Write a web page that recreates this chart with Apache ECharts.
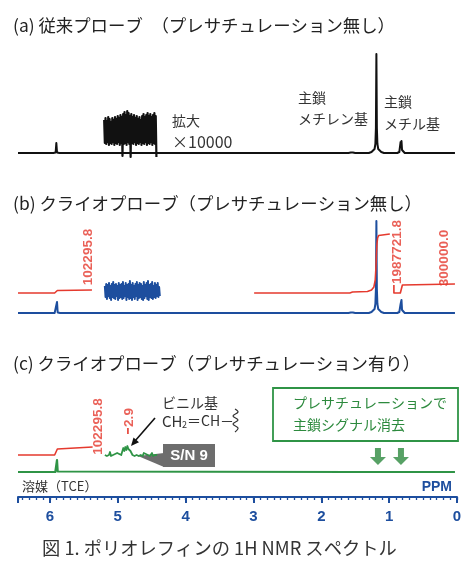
<!DOCTYPE html>
<html><head><meta charset="utf-8">
<script src="https://cdn.jsdelivr.net/npm/echarts@6/dist/echarts.min.js"></script>
<style>html,body{margin:0;padding:0;background:#fff}#c{width:474px;height:570px}</style>
</head><body><div id="c"></div>
<script>
// ---- data (ppm, intensity in panel units) ----
const ppmTicks = [0, 1, 2, 3, 4, 5, 6];
const specA = [[6.47,0],[5.95,0],[5.915,0.5],[5.905,10],[5.895,0.5],[5.86,0],[1.60,0],[1.565,0.5],[1.55,2.5],[1.535,0.5],[1.50,0],[1.30,0],[1.26,1],[1.235,2],[1.215,4],[1.203,9],[1.195,25],[1.188,99],[1.181,25],[1.173,9],[1.161,4],[1.141,2],[1.116,1],[1.076,0],[0.88,0],[0.85,1],[0.838,3],[0.831,11],[0.825,7],[0.818,12],[0.81,3],[0.795,1],[0.77,0],[0.03,0]];
const specB = [[6.47,0],[5.93,0],[5.905,0.5],[5.895,11],[5.885,0.5],[5.85,0],[1.60,0],[1.565,0.5],[1.55,2],[1.535,0.5],[1.50,0],[1.30,0],[1.26,1],[1.235,2],[1.215,4],[1.203,9],[1.195,24],[1.188,92],[1.181,24],[1.173,9],[1.161,4],[1.141,2],[1.116,1],[1.076,0],[0.88,0],[0.85,1],[0.838,3],[0.831,9],[0.825,7],[0.818,13],[0.81,3],[0.795,1],[0.77,0],[0.03,0]];
const specC = [[6.47,0],[5.92,0],[5.905,0.5],[5.895,12],[5.885,0.5],[5.86,0],[1.53,0],[1.51,1],[1.49,0],[1.25,0],[1.23,1],[1.21,0],[0.03,0]];
const noiseA = {start: 5.20, end: 4.43, values: [33,10,35,9,32,11,36,8,34,10,31,9,35,11,33,8,36,10,34,9,37,11,35,8,38,10,36,-3,39,9,41,10,38,8,42,11,40,9,37,-4,39,10,36,9,38,11,35,8,37,10,34,9,36,11,33,8,37,10,39,9,36,11,38,8,40,10,37,9,39,11,36,8,38,10,40,9,37,-4]};
const noiseB = {start: 5.19, end: 4.38, values: [27,16,29,14,28,17,30,15,27,13,29,16,31,15,28,14,29,17,27,13,30,15,28,16,29,14,31,15,27,17,30,13,28,16,29,14,32,15,28,13,30,16,27,14,29,17,31,13,28,15,30,16,29,14,27,13,31,15,28,17,30,14,32,13,28,16,29,15,31,14,27,16,30,15,28,17,30,16,26,17]};
const noiseC = {start: 5.19, end: 4.42, values: [17,19,16,18,17,20,16,18,17,19,18,16,19,17,18,20,17,19,24,21,25,22,26,23,25,21,19,17,19,16,18,17,19,16,18,17,18,16,19,17,18,16,17,18,16,17,19,16,18,17,18,17]};
const intB1 = [[6.47,20],[5.93,20],[5.91,21],[5.89,22.5],[5.87,23],[5.38,23]];
const intB2 = [[2.99,20],[1.58,20],[1.54,21],[1.32,21.5],[1.26,23],[1.225,26],[1.205,33],[1.195,45],[1.188,58],[1.18,69],[1.17,75],[1.155,77.5],[1.13,78.5],[0.99,79]];
const intB3 = [[0.93,28],[0.93,20],[0.835,20],[0.82,24],[0.805,28],[0.78,29],[0.03,29]];
const intC1 = [[6.47,17],[5.93,17],[5.91,19],[5.89,23],[5.87,25],[5.37,25]];
const intC2 = [[4.85,38],[4.85,44]];
const labelsB = [[5.435,56,'102295.8'],[0.885,61,'1987721.8'],[0.19,55,'300000.0']];
const labelsC = [[5.29,45.5,'102295.8'],[4.83,54.5,'2.9']];
const arrowsC = [[1.165,15.5],[0.826,15.5]];

// ---- helpers ----
function noisePts(n) {
  const k = n.values.length, step = (n.start - n.end) / (k - 1);
  return n.values.map((v, i) => [n.start - i * step, v]);
}
const JP = "'Noto Sans CJK JP', sans-serif";
const LAT = "'Liberation Sans', Arial, sans-serif";
const BLACK = '#111', BLUE = '#1d4e9e', RED = '#e53a2e', GREEN = '#2f9446', DGREEN = '#2d8a3e';

const grids = [
  {left: 18, right: 17, top: 50, height: 110},
  {left: 18, right: 17, top: 210, height: 110},
  {left: 18, right: 17, top: 380, height: 99}
];
const yMax = [103, 103, 92];
const xAxes = [0, 1].map(g => ({gridIndex: g, type: 'value', min: 0, max: 6.47, inverse: true, show: false,
  axisLine: {onZero: false}}));
xAxes.push({
  gridIndex: 2, type: 'value', min: 0, max: 6.47, interval: 1, inverse: true, position: 'bottom', offset: 18,
  axisLine: {show: true, onZero: false, lineStyle: {color: BLUE, width: 2}},
  axisTick: {show: true, length: 6, lineStyle: {color: BLUE, width: 2}},
  splitLine: {show: false},
  axisLabel: {show: true, margin: 12, color: BLUE, fontFamily: LAT, fontWeight: 'bold', fontSize: 15,
    formatter: v => (ppmTicks.indexOf(Math.round(v * 1000) / 1000) >= 0 ? String(v) : '')}
});
xAxes.push({
  gridIndex: 2, type: 'value', min: 0, max: 6.47, interval: 0.1, inverse: true, position: 'bottom', offset: 18,
  axisLine: {show: false, onZero: false}, axisLabel: {show: false}, splitLine: {show: false},
  axisTick: {show: true, length: 3, lineStyle: {color: BLUE, width: 1.3}}
});
const yAxes = [0, 1, 2].map(g => ({gridIndex: g, type: 'value', min: -7, max: yMax[g], show: false}));

function line(xi, data, color, w) {
  return {type: 'line', xAxisIndex: xi, yAxisIndex: Math.min(xi, 2), data, symbol: 'none', silent: true,
    smooth: false, clip: false, lineStyle: {color, width: w, join: 'round'}, animation: false};
}
function labels(xi, data) {
  return {type: 'scatter', xAxisIndex: xi, yAxisIndex: xi, data, symbolSize: 1, silent: true, animation: false,
    itemStyle: {color: 'rgba(0,0,0,0)'},
    label: {show: true, position: 'inside', rotate: 90, formatter: p => p.data[2], color: RED,
      fontFamily: LAT, fontWeight: 'bold', fontSize: 13.5}};
}

const series = [
  line(0, specA, BLACK, 2),
  line(0, noisePts(noiseA), BLACK, 2.2),
  line(1, specB, BLUE, 2),
  line(1, noisePts(noiseB), BLUE, 2),
  line(1, intB1, RED, 1.6), line(1, intB2, RED, 1.6), line(1, intB3, RED, 1.6),
  labels(1, labelsB),
  line(2, specC, GREEN, 2.2),
  line(2, noisePts(noiseC), GREEN, 1.8),
  line(2, intC1, RED, 1.6), line(2, intC2, RED, 1.6),
  labels(2, labelsC),
  {type: 'scatter', xAxisIndex: 2, yAxisIndex: 2, data: arrowsC, silent: true, animation: false,
    symbol: 'path://M5,0L11,0L11,9L16,9L8,17L0,9L5,9Z', symbolSize: [16, 17], itemStyle: {color: DGREEN}}
];

function txt(t, x, y, size, color, opts) {
  const o = Object.assign({weight: 'normal', family: JP, align: 'left'}, opts || {});
  return {type: 'text', x: 0, y: 0, silent: true, style: {text: t, x, y, fill: color,
    font: o.weight + ' ' + size + 'px ' + o.family, align: o.align, textAlign: o.align,
    verticalAlign: 'middle', textVerticalAlign: 'middle'}};
}

const graphic = [
  txt('(a) 従来プローブ　（プレサチュレーション無し）', 13, 25, 17.4, '#222'),
  txt('(b) クライオプローブ（プレサチュレーション無し）', 13, 203, 17.4, '#222'),
  txt('(c) クライオプローブ（プレサチュレーション有り）', 13, 363, 17.4, '#222'),
  txt('図 1. ポリオレフィンの 1H NMR スペクトル', 42, 548, 18.3, '#333'),
  txt('拡大', 172, 121, 14, '#333'),
  txt('×10000', 172, 142, 16, '#333'),
  txt('主鎖', 298, 98, 14, '#333'),
  txt('メチレン基', 298, 119, 14, '#333'),
  txt('主鎖', 384, 102, 14, '#333'),
  txt('メチル基', 384, 124, 14, '#333'),
  // (c) annotations
  txt('ビニル基', 162, 403, 14, '#333'),
  txt('CH', 162, 421, 15, '#333'),
  txt('2', 182, 425, 9, '#333'),
  txt('＝CH－', 187, 421, 14, '#333'),
  {type: 'polyline', silent: true, shape: {points: [[235,409],[238,412],[233,416],[238,420],[233,424],[238,428],[235,432]], smooth: 0.4},
    style: {stroke: '#333', lineWidth: 1.2, fill: null}},
  {type: 'line', silent: true, shape: {x1: 155, y1: 418, x2: 135, y2: 441}, style: {stroke: '#111', lineWidth: 1.6}},
  {type: 'polygon', silent: true, shape: {points: [[131,446],[139,442.3],[133.5,437.5]]}, style: {fill: '#111'}},
  {type: 'polygon', silent: true, shape: {points: [[138,456],[164,453],[164,467]]}, style: {fill: '#6d6d6d'}},
  {type: 'rect', silent: true, shape: {x: 163, y: 444, width: 52, height: 23}, style: {fill: '#6d6d6d'}},
  txt('S/N 9', 189, 456, 15, '#fff', {weight: 'bold', family: LAT, align: 'center'}),
  {type: 'rect', silent: true, shape: {x: 273, y: 388, width: 185, height: 53}, style: {fill: null, stroke: GREEN, lineWidth: 1.8}},
  txt('プレサチュレーションで', 293, 403, 14, DGREEN),
  txt('主鎖シグナル消去', 293, 425, 14, DGREEN),
  // axis texts
  txt('溶媒（TCE）', 22, 486, 13, '#333'),
  txt('PPM', 452, 487, 14, BLUE, {weight: 'bold', family: LAT, align: 'right'})
];

const chart = echarts.init(document.getElementById('c'), null, {renderer: 'canvas'});
chart.setOption({animation: false, backgroundColor: '#fff', grid: grids, xAxis: xAxes, yAxis: yAxes, series, graphic});
</script></body></html>
